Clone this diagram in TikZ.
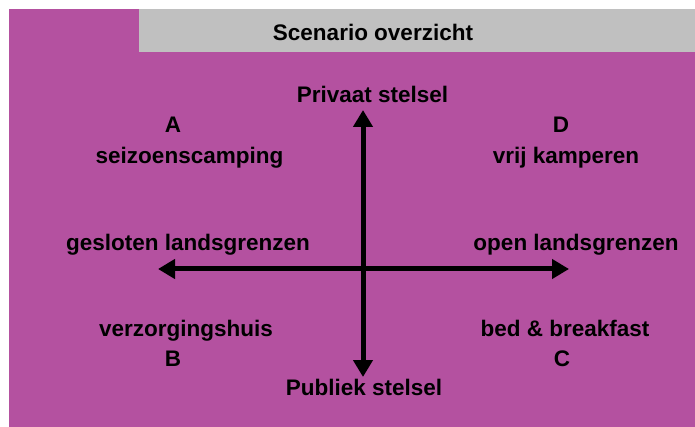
\documentclass[tikz,border=0pt]{standalone}
\usepackage{fontspec}
\setmainfont{Liberation Sans}
\usetikzlibrary{arrows.meta}
\definecolor{scenpurple}{RGB}{180,81,160}
\definecolor{scengrey}{RGB}{192,192,192}

\begin{document}
\begin{tikzpicture}[x=1pt,y=1pt,
  label/.style={anchor=base,font=\bfseries\fontsize{22.5}{27}\selectfont},
  axis/.style={line width=5pt,-{Triangle[length=17pt,width=19pt]}}]
\tikzstyle{every node}+=[inner sep=0pt]
\useasboundingbox (0,0) rectangle (695,-427);
\fill [white] (0,0) rectangle (695,-427);
\fill [scenpurple] (9,-9) rectangle (695,-427);
\fill [scengrey] (139,-9) rectangle (695,-52);
\node [label] (title) at (373,-41) {Scenario overzicht};
\node [label] (privaat) at (372.5,-103) {Privaat stelsel};
\node [label] (publiek) at (364,-395) {Publiek stelsel};
\node [label] (gesloten) at (188,-251) {gesloten landsgrenzen};
\node [label] (open) at (576,-251) {open landsgrenzen};
\node [label] (a) at (173,-133) {A};
\node [label] (seizoen) at (189.5,-164) {seizoenscamping};
\node [label] (d) at (561,-133) {D};
\node [label] (vrij) at (566,-164) {vrij kamperen};
\node [label] (verzorg) at (186,-336) {verzorgingshuis};
\node [label] (b) at (173,-366) {B};
\node [label] (bnb) at (565,-336) {bed \& breakfast};
\node [label] (c) at (562,-366) {C};
% assen
\coordinate (mid) at (363,-269);
\coordinate (top) at (363,-110);
\coordinate (bottom) at (363,-377);
\coordinate (left) at (158,-269);
\coordinate (right) at (569,-269);
\draw [axis] (mid) -- (top);
\draw [axis] (mid) -- (bottom);
\draw [axis] (mid) -- (left);
\draw [axis] (mid) -- (right);
\end{tikzpicture}
\end{document}
